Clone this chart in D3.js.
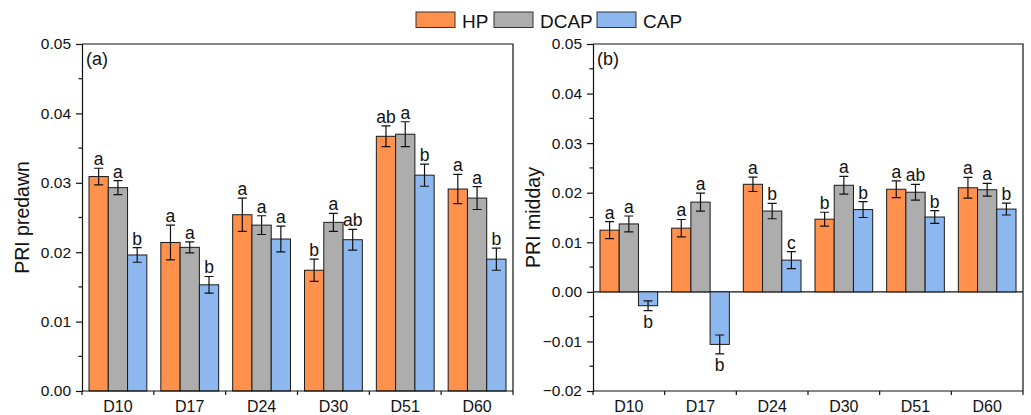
<!DOCTYPE html>
<html>
<head>
<meta charset="utf-8">
<script src="https://cdn.jsdelivr.net/npm/d3@7"></script>
<style>
  html, body { margin: 0; padding: 0; background: #fff; }
  svg text { font-family: "Liberation Sans", Arial, sans-serif; fill: #111; }
</style>
</head>
<body>
<svg id="chart" width="1031" height="415"></svg>
<script>
// ---------- data ----------
const categories = ["D10", "D17", "D24", "D30", "D51", "D60"];
const seriesNames = ["HP", "DCAP", "CAP"];
const seriesColors = ["#FF914D", "#ADADAD", "#8DB7EF"];

const predawnHP      = [0.0309, 0.0214, 0.0254, 0.0174, 0.0367, 0.0291];
const predawnHPErr   = [0.0012, 0.0025, 0.0024, 0.0016, 0.0015, 0.0021];
const predawnHPLet   = ["a", "a", "a", "b", "ab", "a"];
const predawnDCAP    = [0.0293, 0.0207, 0.0239, 0.0243, 0.0370, 0.0278];
const predawnDCAPErr = [0.0010, 0.0008, 0.00135, 0.0013, 0.0018, 0.00165];
const predawnDCAPLet = ["a", "a", "a", "a", "a", "a"];
const predawnCAP     = [0.0196, 0.0153, 0.0219, 0.0218, 0.0311, 0.0190];
const predawnCAPErr  = [0.00105, 0.0012, 0.00185, 0.0015, 0.0016, 0.0016];
const predawnCAPLet  = ["b", "b", "a", "ab", "b", "b"];

const middayHP       = [0.01245, 0.01285, 0.0217, 0.01466, 0.0207, 0.0210];
const middayHPErr    = [0.0017, 0.00175, 0.00145, 0.0014, 0.0017, 0.0021];
const middayHPLet    = ["a", "a", "a", "b", "a", "a"];
const middayDCAP     = [0.0137, 0.0181, 0.0163, 0.0215, 0.0201, 0.0206];
const middayDCAPErr  = [0.0016, 0.0018, 0.00155, 0.0018, 0.0016, 0.0013];
const middayDCAPLet  = ["a", "a", "b", "a", "ab", "a"];
const middayCAP      = [-0.0028, -0.0106, 0.0064, 0.0166, 0.0151, 0.0167];
const middayCAPErr   = [0.0010, 0.0019, 0.0017, 0.0016, 0.0013, 0.0012];
const middayCAPLet   = ["b", "b", "c", "b", "b", "b"];

const predawnTicks = [0, 0.01, 0.02, 0.03, 0.04, 0.05];
const middayTicks  = [-0.02, -0.01, 0, 0.01, 0.02, 0.03, 0.04, 0.05];

// ---------- chart ----------
const svg = d3.select("#chart");
const fmt = d3.format(".2f");

function panel(opts) {
  const { left, right, top, bottom, domain, ticks, title, label, vals, errs, lets } = opts;
  const g = svg.append("g");
  const x = d3.scaleBand().domain(categories).range([left, right])
    .paddingInner(0.195).paddingOuter(0.0975);
  const xs = d3.scaleBand().domain(seriesNames).range([0, x.bandwidth()]).padding(0);
  const y = d3.scaleLinear().domain(domain).range([bottom, top]);
  const step = x.step();

  // box border (top, right)
  g.append("path")
    .attr("d", `M${left},${top}H${right}V${bottom}`)
    .attr("fill", "none").attr("stroke", "#111").attr("stroke-width", 1.2);

  // zero line
  if (domain[0] < 0) {
    g.append("line").attr("x1", left).attr("x2", right)
      .attr("y1", y(0)).attr("y2", y(0))
      .attr("stroke", "#111").attr("stroke-width", 1.2);
  }

  // bars
  seriesNames.forEach((s, si) => {
    categories.forEach((c, ci) => {
      const v = vals[si][ci];
      const bx = x(c) + xs(s);
      g.append("rect")
        .attr("x", bx).attr("width", xs.bandwidth())
        .attr("y", Math.min(y(v), y(0)))
        .attr("height", Math.abs(y(v) - y(0)))
        .attr("fill", seriesColors[si])
        .attr("stroke", "#1a1a1a").attr("stroke-width", 1);
    });
  });

  // error bars + letters
  seriesNames.forEach((s, si) => {
    categories.forEach((c, ci) => {
      const v = vals[si][ci], e = errs[si][ci];
      const cx = x(c) + xs(s) + xs.bandwidth() / 2;
      const y1 = y(v + e), y2 = y(v - e);
      const cap = 4.5;
      g.append("path")
        .attr("d", `M${cx},${y1}V${y2}M${cx - cap},${y1}H${cx + cap}M${cx - cap},${y2}H${cx + cap}`)
        .attr("fill", "none").attr("stroke", "#111").attr("stroke-width", 1.2);
      const ty = v >= 0 ? y1 - 3 : y2 + 17;
      g.append("text").attr("x", cx).attr("y", ty)
        .attr("text-anchor", "middle").attr("font-size", 17.5)
        .text(lets[si][ci]);
    });
  });

  // y axis
  const yAxis = d3.axisLeft(y).tickValues(ticks).tickFormat(fmt).tickSize(6).tickPadding(5);
  const ya = g.append("g").attr("transform", `translate(${left},0)`).call(yAxis);
  ya.select(".domain").attr("stroke", "#111").attr("stroke-width", 1.2);
  ya.selectAll(".tick line").attr("stroke", "#111").attr("stroke-width", 1.2);
  ya.selectAll("text").attr("font-size", 15.5).attr("fill", "#111")
    .style("font-family", "'Liberation Sans', Arial, sans-serif");
  // minor ticks
  const minors = ticks.slice(0, -1).map((t, i) => (t + ticks[i + 1]) / 2);
  g.selectAll(null).data(minors).enter().append("line")
    .attr("x1", left - 3.5).attr("x2", left)
    .attr("y1", d => y(d)).attr("y2", d => y(d))
    .attr("stroke", "#111").attr("stroke-width", 1.2);

  // x axis
  g.append("line").attr("x1", left).attr("x2", right)
    .attr("y1", bottom).attr("y2", bottom)
    .attr("stroke", "#111").attr("stroke-width", 1.2);
  const bounds = d3.range(categories.length + 1).map(i => left + i * step);
  g.selectAll(null).data(bounds).enter().append("line")
    .attr("x1", d => d).attr("x2", d => d)
    .attr("y1", bottom).attr("y2", bottom + 4)
    .attr("stroke", "#111").attr("stroke-width", 1.2);
  g.selectAll(null).data(categories).enter().append("text")
    .attr("x", d => x(d) + x.bandwidth() / 2).attr("y", bottom + 20.5)
    .attr("text-anchor", "middle").attr("font-size", 16)
    .text(d => d);

  // axis title
  g.append("text")
    .attr("transform", `translate(${left - 53},${(top + bottom) / 2}) rotate(-90)`)
    .attr("text-anchor", "middle").attr("font-size", 19.5)
    .text(title);

  // panel label
  g.append("text").attr("x", left + 4).attr("y", top + 21)
    .attr("font-size", 18).text(label);
}

panel({
  left: 82, right: 513, top: 44, bottom: 391,
  domain: [0, 0.05], ticks: predawnTicks, title: "PRI predawn", label: "(a)",
  vals: [predawnHP, predawnDCAP, predawnCAP],
  errs: [predawnHPErr, predawnDCAPErr, predawnCAPErr],
  lets: [predawnHPLet, predawnDCAPLet, predawnCAPLet]
});
panel({
  left: 593, right: 1023, top: 44, bottom: 391,
  domain: [-0.02, 0.05], ticks: middayTicks, title: "PRI midday", label: "(b)",
  vals: [middayHP, middayDCAP, middayCAP],
  errs: [middayHPErr, middayDCAPErr, middayCAPErr],
  lets: [middayHPLet, middayDCAPLet, middayCAPLet]
});

// legend
const legendX = [416, 494, 597];
const legend = svg.append("g");
seriesNames.forEach((s, i) => {
  legend.append("rect").attr("x", legendX[i]).attr("y", 12).attr("width", 39).attr("height", 15.5)
    .attr("fill", seriesColors[i]).attr("stroke", "#333").attr("stroke-width", 1);
  legend.append("text").attr("x", legendX[i] + 46).attr("y", 27.5)
    .attr("font-size", 19).text(s);
});
</script>
</body>
</html>
